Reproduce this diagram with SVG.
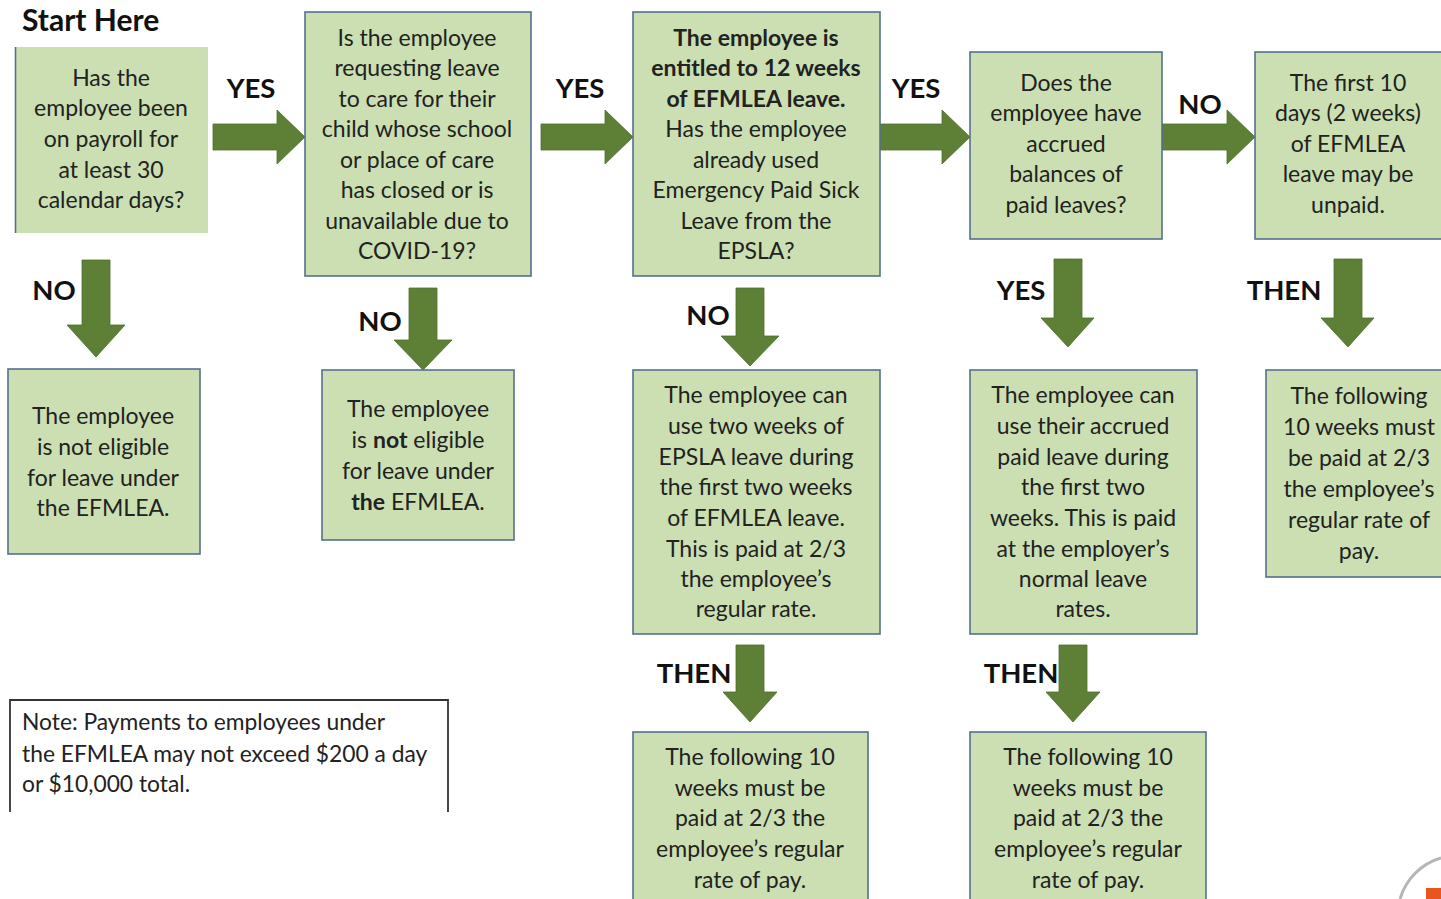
<svg xmlns="http://www.w3.org/2000/svg" width="1441" height="899" viewBox="0 0 1441 899">
<defs>
<style>
.box{fill:#cbdfb3;stroke:#56708f;stroke-width:1.6}
.t{font-family:Lato,"Open Sans",sans-serif;font-size:23px;fill:#222;text-anchor:middle}
.b{font-weight:bold}
.lbl{font-family:Lato,"Open Sans",sans-serif;font-size:27.5px;font-weight:bold;fill:#111}
.arr{fill:#5d8036;stroke:#4e6e2c;stroke-width:0.8}
.note{font-family:Lato,"Open Sans",sans-serif;font-size:22.8px;fill:#222}
</style>
</defs>
<rect width="1441" height="899" fill="#ffffff"/>
<text class="lbl" x="22" y="31" style="font-size:30px">Start Here</text>

<g id="connectors">
<polygon class="arr" points="213,124 277,124 277,110 305,137 277,164 277,150 213,150"/>
<polygon class="arr" points="541,124 605,124 605,110 633,137 605,164 605,150 541,150"/>
<polygon class="arr" points="878,124 942,124 942,110 970,137 942,164 942,150 878,150"/>
<polygon class="arr" points="1162,124 1227,124 1227,110 1255,137 1227,164 1227,150 1162,150"/>
<polygon class="arr" points="82,260 110,260 110,325 125,325 96,357 67,325 82,325"/>
<polygon class="arr" points="409,288 437,288 437,340 452,340 423,370 394,340 409,340"/>
<polygon class="arr" points="736,288 764,288 764,336 779,336 750,366 721,336 736,336"/>
<polygon class="arr" points="1054,259 1082,259 1082,318 1094,318 1068,347 1041,318 1054,318"/>
<polygon class="arr" points="1334,259 1362,259 1362,318 1374,318 1348,347 1321,318 1334,318"/>
<polygon class="arr" points="736,645 764,645 764,692 777,692 750,722 723,692 736,692"/>
<polygon class="arr" points="1059,645 1087,645 1087,692 1100,692 1073,722 1046,692 1059,692"/>
<text class="lbl" x="251" y="98" text-anchor="middle">YES</text>
<text class="lbl" x="580" y="98" text-anchor="middle">YES</text>
<text class="lbl" x="916" y="98" text-anchor="middle">YES</text>
<text class="lbl" x="1200" y="114" text-anchor="middle">NO</text>
<text class="lbl" x="54" y="300" text-anchor="middle">NO</text>
<text class="lbl" x="380" y="331" text-anchor="middle">NO</text>
<text class="lbl" x="708" y="325" text-anchor="middle">NO</text>
<text class="lbl" x="1021" y="300" text-anchor="middle">YES</text>
<text class="lbl" x="1284" y="300" text-anchor="middle">THEN</text>
<text class="lbl" x="694" y="683" text-anchor="middle">THEN</text>
<text class="lbl" x="1021" y="683" text-anchor="middle">THEN</text>
</g>

<g id="n1">
<rect x="15" y="47" width="193" height="186" fill="#cbdfb3"/>
<line x1="15.5" y1="47" x2="15.5" y2="233" stroke="#56708f" stroke-width="1.6"/>
<text class="t" x="111" y="86">Has the</text>
<text class="t" x="111" y="116">employee been</text>
<text class="t" x="111" y="147">on payroll for</text>
<text class="t" x="111" y="178">at least 30</text>
<text class="t" x="111" y="208">calendar days?</text>
</g>

<g id="n2">
<rect class="box" x="305" y="12" width="226" height="264"/>
<text class="t" x="417" y="46">Is the employee</text>
<text class="t" x="417" y="76">requesting leave</text>
<text class="t" x="417" y="107">to care for their</text>
<text class="t" x="417" y="137">child whose school</text>
<text class="t" x="417" y="168">or place of care</text>
<text class="t" x="417" y="198">has closed or is</text>
<text class="t" x="417" y="229">unavailable due to</text>
<text class="t" x="417" y="259">COVID-19?</text>
</g>

<g id="n3">
<rect class="box" x="633" y="12" width="247" height="264"/>
<text class="t b" x="756" y="46">The employee is</text>
<text class="t b" x="756" y="76">entitled to 12 weeks</text>
<text class="t b" x="756" y="107">of EFMLEA leave.</text>
<text class="t" x="756" y="137">Has the employee</text>
<text class="t" x="756" y="168">already used</text>
<text class="t" x="756" y="198">Emergency Paid Sick</text>
<text class="t" x="756" y="229">Leave from the</text>
<text class="t" x="756" y="259">EPSLA?</text>
</g>

<g id="n4">
<rect class="box" x="970" y="52" width="192" height="187"/>
<text class="t" x="1066" y="91">Does the</text>
<text class="t" x="1066" y="121">employee have</text>
<text class="t" x="1066" y="152">accrued</text>
<text class="t" x="1066" y="182">balances of</text>
<text class="t" x="1066" y="213">paid leaves?</text>
</g>

<g id="n5">
<rect class="box" x="1255" y="52" width="190" height="187"/>
<text class="t" x="1348" y="91">The first 10</text>
<text class="t" x="1348" y="121">days (2 weeks)</text>
<text class="t" x="1348" y="152">of EFMLEA</text>
<text class="t" x="1348" y="182">leave may be</text>
<text class="t" x="1348" y="213">unpaid.</text>
</g>

<g id="n6">
<rect class="box" x="8" y="369" width="192" height="185"/>
<text class="t" x="103" y="424">The employee</text>
<text class="t" x="103" y="455">is not eligible</text>
<text class="t" x="103" y="486">for leave under</text>
<text class="t" x="103" y="516">the EFMLEA.</text>
</g>

<g id="n7">
<rect class="box" x="322" y="370" width="192" height="170"/>
<text class="t" x="418" y="417">The employee</text>
<text class="t" x="418" y="448">is <tspan class="b">not</tspan> eligible</text>
<text class="t" x="418" y="479">for leave under</text>
<text class="t" x="418" y="510"><tspan class="b">the</tspan> EFMLEA.</text>
</g>

<g id="n8">
<rect class="box" x="633" y="370" width="247" height="264"/>
<text class="t" x="756" y="403">The employee can</text>
<text class="t" x="756" y="434">use two weeks of</text>
<text class="t" x="756" y="465">EPSLA leave during</text>
<text class="t" x="756" y="495">the first two weeks</text>
<text class="t" x="756" y="526">of EFMLEA leave.</text>
<text class="t" x="756" y="557">This is paid at 2/3</text>
<text class="t" x="756" y="587">the employee’s</text>
<text class="t" x="756" y="617">regular rate.</text>
</g>

<g id="n9">
<rect class="box" x="970" y="370" width="227" height="264"/>
<text class="t" x="1083" y="403">The employee can</text>
<text class="t" x="1083" y="434">use their accrued</text>
<text class="t" x="1083" y="465">paid leave during</text>
<text class="t" x="1083" y="495">the first two</text>
<text class="t" x="1083" y="526">weeks. This is paid</text>
<text class="t" x="1083" y="557">at the employer’s</text>
<text class="t" x="1083" y="587">normal leave</text>
<text class="t" x="1083" y="617">rates.</text>
</g>

<g id="n10">
<rect class="box" x="1266" y="370" width="180" height="207"/>
<text class="t" x="1359" y="404">The following</text>
<text class="t" x="1359" y="435">10 weeks must</text>
<text class="t" x="1359" y="466">be paid at 2/3</text>
<text class="t" x="1359" y="497">the employee’s</text>
<text class="t" x="1359" y="528">regular rate of</text>
<text class="t" x="1359" y="559">pay.</text>
</g>

<g id="n11">
<rect class="box" x="633" y="732" width="235" height="175"/>
<text class="t" x="750" y="765">The following 10</text>
<text class="t" x="750" y="796">weeks must be</text>
<text class="t" x="750" y="826">paid at 2/3 the</text>
<text class="t" x="750" y="857">employee’s regular</text>
<text class="t" x="750" y="888">rate of pay.</text>
</g>

<g id="n12">
<rect class="box" x="970" y="732" width="236" height="175"/>
<text class="t" x="1088" y="765">The following 10</text>
<text class="t" x="1088" y="796">weeks must be</text>
<text class="t" x="1088" y="826">paid at 2/3 the</text>
<text class="t" x="1088" y="857">employee’s regular</text>
<text class="t" x="1088" y="888">rate of pay.</text>
</g>

<g id="note">
<path d="M10,812 V700 H448 V812" fill="none" stroke="#333" stroke-width="1.8"/>
<text class="note" x="22" y="730">Note: Payments to employees under</text>
<text class="note" x="22" y="762">the EFMLEA may not exceed $200 a day</text>
<text class="note" x="22" y="792">or $10,000 total.</text>
</g>

<g id="logo">
<path d="M1400,899 A60,60 0 0 1 1441,858" fill="none" stroke="#b5b5b5" stroke-width="3"/>
<rect x="1426" y="888" width="15" height="11" fill="#e8561e"/>
</g>
</svg>
